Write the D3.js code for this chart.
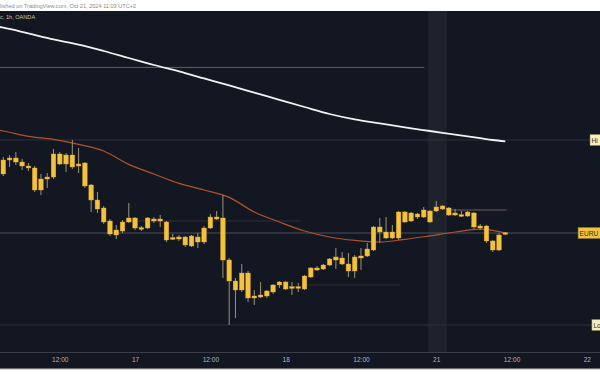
<!DOCTYPE html>
<html><head><meta charset="utf-8">
<script src="https://cdn.jsdelivr.net/npm/d3@7"></script>
<style>html,body{margin:0;padding:0;background:#fff;overflow:hidden}svg{display:block}</style>
</head><body><svg id="c" width="600" height="385"></svg>
<script>
// ---------- DATA (EURUSD, 1h, OANDA) ----------
const candleOpen = [1.08865,1.08935,1.08945,1.08925,1.08905,1.08895,1.08785,1.08840,1.08850,1.08965,
1.08915,1.08960,1.08905,1.08920,1.08810,1.08735,1.08695,1.08630,1.08560,1.08580,
1.08625,1.08645,1.08595,1.08595,1.08640,1.08630,1.08625,1.08540,1.08540,1.08550,
1.08505,1.08550,1.08525,1.08595,1.08650,1.08645,1.08435,1.08330,1.08285,1.08370,
1.08245,1.08250,1.08255,1.08275,1.08310,1.08325,1.08295,1.08300,1.08290,1.08350,
1.08395,1.08390,1.08410,1.08435,1.08445,1.08415,1.08380,1.08445,1.08455,1.08485,
1.08600,1.08575,1.08575,1.08545,1.08675,1.08630,1.08665,1.08650,1.08680,1.08680,
1.08705,1.08695,1.08660,1.08660,1.08655,1.08670,1.08605,1.08605,1.08530,1.08485,
1.08565];
const candleHigh = [1.08950,1.08960,1.08975,1.08940,1.08920,1.08905,1.08865,1.08870,1.08990,1.08975,
1.08970,1.09035,1.08995,1.08925,1.08815,1.08775,1.08705,1.08640,1.08610,1.08635,
1.08720,1.08650,1.08605,1.08650,1.08650,1.08660,1.08630,1.08565,1.08560,1.08555,
1.08560,1.08570,1.08605,1.08665,1.08680,1.08760,1.08445,1.08345,1.08415,1.08380,
1.08285,1.08325,1.08285,1.08315,1.08330,1.08330,1.08325,1.08320,1.08360,1.08400,
1.08405,1.08415,1.08445,1.08495,1.08475,1.08470,1.08460,1.08495,1.08520,1.08605,
1.08645,1.08650,1.08610,1.08680,1.08680,1.08675,1.08670,1.08700,1.08685,1.08730,
1.08710,1.08700,1.08690,1.08680,1.08680,1.08675,1.08615,1.08610,1.08535,1.08570,
1.08575];
const candleLow = [1.08855,1.08900,1.08910,1.08885,1.08880,1.08775,1.08760,1.08795,1.08840,1.08910,
1.08875,1.08890,1.08870,1.08795,1.08675,1.08670,1.08615,1.08555,1.08540,1.08570,
1.08620,1.08585,1.08580,1.08590,1.08620,1.08600,1.08525,1.08535,1.08530,1.08500,
1.08500,1.08495,1.08515,1.08590,1.08635,1.08345,1.08110,1.08145,1.08275,1.08225,
1.08210,1.08245,1.08245,1.08265,1.08295,1.08285,1.08260,1.08275,1.08285,1.08345,
1.08380,1.08385,1.08405,1.08390,1.08410,1.08350,1.08345,1.08385,1.08450,1.08480,
1.08520,1.08540,1.08540,1.08535,1.08620,1.08625,1.08640,1.08645,1.08620,1.08675,
1.08685,1.08655,1.08655,1.08650,1.08650,1.08590,1.08585,1.08520,1.08475,1.08480,
1.08560];
const candleClose = [1.08935,1.08945,1.08925,1.08905,1.08895,1.08785,1.08840,1.08850,1.08965,1.08915,
1.08960,1.08900,1.08915,1.08805,1.08735,1.08690,1.08625,1.08565,1.08585,1.08625,
1.08645,1.08595,1.08590,1.08645,1.08630,1.08640,1.08535,1.08545,1.08550,1.08510,
1.08555,1.08525,1.08595,1.08650,1.08640,1.08435,1.08330,1.08285,1.08370,1.08245,
1.08255,1.08260,1.08280,1.08310,1.08325,1.08290,1.08300,1.08295,1.08355,1.08395,
1.08385,1.08410,1.08440,1.08450,1.08415,1.08380,1.08450,1.08455,1.08490,1.08600,
1.08575,1.08545,1.08545,1.08675,1.08625,1.08670,1.08650,1.08685,1.08625,1.08700,
1.08690,1.08660,1.08670,1.08655,1.08675,1.08600,1.08595,1.08530,1.08485,1.08560,
1.08570];

// moving averages, read at these candle positions
const maIndex = [-0.55,0,4,8,12,16,20,24,28,32,36,40,44,48,52,56,60,64,68,72,76,78,80];
const maSlow  = [1.09600,1.09597,1.09568,1.09538,1.09512,1.09480,1.09445,1.09410,1.09378,1.09343,1.09308,1.09272,1.09236,1.09200,1.09165,1.09138,1.09118,1.09098,1.09080,1.09062,1.09044,1.09035,1.09028];
const maFast  = [1.09083,1.09080,1.09053,1.09038,1.09013,1.08980,1.08913,1.08865,1.08818,1.08785,1.08748,1.08675,1.08625,1.08580,1.08550,1.08533,1.08525,1.08538,1.08556,1.08575,1.08589,1.08583,1.08570];

// x axis
const tickIndex  = [9,21,33,45,57,69,81,93];
const tickLabels = ["12:00","17","12:00","18","12:00","21","12:00","22"];

// horizontal levels
const levelPrice = [1.09398,1.09035,1.08630,1.08685,1.08310,1.08110,1.08570];
const levelFrom  = [-0.55,-0.55,19.4,71.5,48,-0.55,-0.55];
const levelTo    = [67.1,93.5,47.3,80.2,63.2,93.8,91.6];
const levelKind  = ["draw","range","faint","draw","faint","range","last"];

// right price-scale labels (only the part visible inside the frame)
const labelText  = ["Hi","EURU","Lo"];
const labelPrice = [1.09035,1.08570,1.08110];
const labelIndex = [93.5,91.6,93.8];

const sessionFrom = 67.7, sessionTo = 70.7;

// ---------- DRAW ----------
const svg = d3.select("#c");
const x = d3.scaleLinear().domain([0,80]).range([3.3,505.3]);
const y = d3.scaleLinear().domain([1.080,1.096]).range([347,27]);
const font = "'Liberation Sans', Arial, sans-serif";

svg.append("rect").attr("width",600).attr("height",385).attr("fill","#ffffff");
svg.append("rect").attr("x",0).attr("y",11).attr("width",600).attr("height",358).attr("fill","#131722");

// session highlight
svg.append("rect").attr("x",x(sessionFrom)).attr("y",11)
  .attr("width",x(sessionTo)-x(sessionFrom)).attr("height",342).attr("fill","#1e222d");

// header texts
svg.append("text").attr("x",0).attr("y",7.5).attr("font-family",font).attr("font-size",5.6)
  .attr("fill","#8a8a8a").text("lished on TradingView.com, Oct 21, 2024 11:03 UTC+2");
svg.append("text").attr("x",0).attr("y",19).attr("font-family",font).attr("font-size",5.6)
  .attr("fill","#c9c3a6").text("c, 1h, OANDA");

// levels
const levelStyle = {
  draw:  {c:"#6e5a5c", w:1},
  range: {c:"#2c303b", w:1},
  faint: {c:"#2c303b", w:1},
  last:  {c:"#4b4e58", w:1}
};
svg.append("g").selectAll("line").data(levelPrice).join("line")
  .attr("x1",(d,i)=>x(levelFrom[i])).attr("x2",(d,i)=>x(levelTo[i]))
  .attr("y1",d=>y(d)).attr("y2",d=>y(d))
  .attr("stroke",(d,i)=>levelStyle[levelKind[i]].c)
  .attr("stroke-width",(d,i)=>levelStyle[levelKind[i]].w);

// moving averages
const maLine = d3.line().x((d,i)=>x(maIndex[i])).y(d=>y(d)).curve(d3.curveMonotoneX);
svg.append("path").datum(maFast).attr("d",maLine).attr("fill","none")
  .attr("stroke","#b0532c").attr("stroke-width",1.2);
svg.append("path").datum(maSlow).attr("d",maLine).attr("fill","none")
  .attr("stroke","#f2f2f2").attr("stroke-width",1.8);

// candles
const idx = d3.range(candleOpen.length);
const bw = 4.6;
const g = svg.append("g");
g.selectAll("line.wick").data(idx).join("line").attr("class","wick")
  .attr("x1",i=>x(i)).attr("x2",i=>x(i))
  .attr("y1",i=>y(candleHigh[i])).attr("y2",i=>y(candleLow[i]))
  .attr("stroke","#9a9478").attr("stroke-width",1);
g.selectAll("rect.body").data(idx).join("rect").attr("class","body")
  .attr("x",i=>x(i)-bw/2).attr("width",bw)
  .attr("y",i=>{const t=y(Math.max(candleOpen[i],candleClose[i]));const b=y(Math.min(candleOpen[i],candleClose[i]));return b-t<1.6?(t+b)/2-0.8:t;})
  .attr("height",i=>Math.max(1.6,y(Math.min(candleOpen[i],candleClose[i]))-y(Math.max(candleOpen[i],candleClose[i]))))
  .attr("fill","#f5c23c").attr("stroke","#d9a62a").attr("stroke-width",0.4);

// x axis
svg.append("line").attr("x1",0).attr("x2",600).attr("y1",352.5).attr("y2",352.5)
  .attr("stroke","#3a3e49").attr("stroke-width",1);
const ax = svg.append("g").attr("transform","translate(0,352.5)")
  .call(d3.axisBottom(x).tickValues(tickIndex).tickFormat((d,i)=>tickLabels[i]).tickSize(0).tickPadding(5));
ax.select(".domain").remove();
ax.selectAll("text").attr("font-family",font).attr("font-size",6.6).attr("fill","#b2b5be");
svg.append("line").attr("x1",0).attr("x2",600).attr("y1",369).attr("y2",369)
  .attr("stroke","#b8b8b8").attr("stroke-width",1);

// right-side labels
const labelFill = ["#f6efc4","#f3c33a","#f6efc4"];
const lg = svg.append("g").selectAll("g").data(labelText).join("g")
  .attr("transform",(d,i)=>`translate(${x(labelIndex[i])},${y(labelPrice[i])})`);
lg.append("rect").attr("x",0).attr("y",-5.5).attr("width",40).attr("height",11)
  .attr("fill",(d,i)=>labelFill[i]).attr("stroke","#8a7a3a").attr("stroke-width",0.5);
lg.append("text").attr("x",1.5).attr("y",2.5).attr("font-family",font).attr("font-size",6.6)
  .attr("fill","#2a2a2a").text(d=>d);
</script></body></html>
